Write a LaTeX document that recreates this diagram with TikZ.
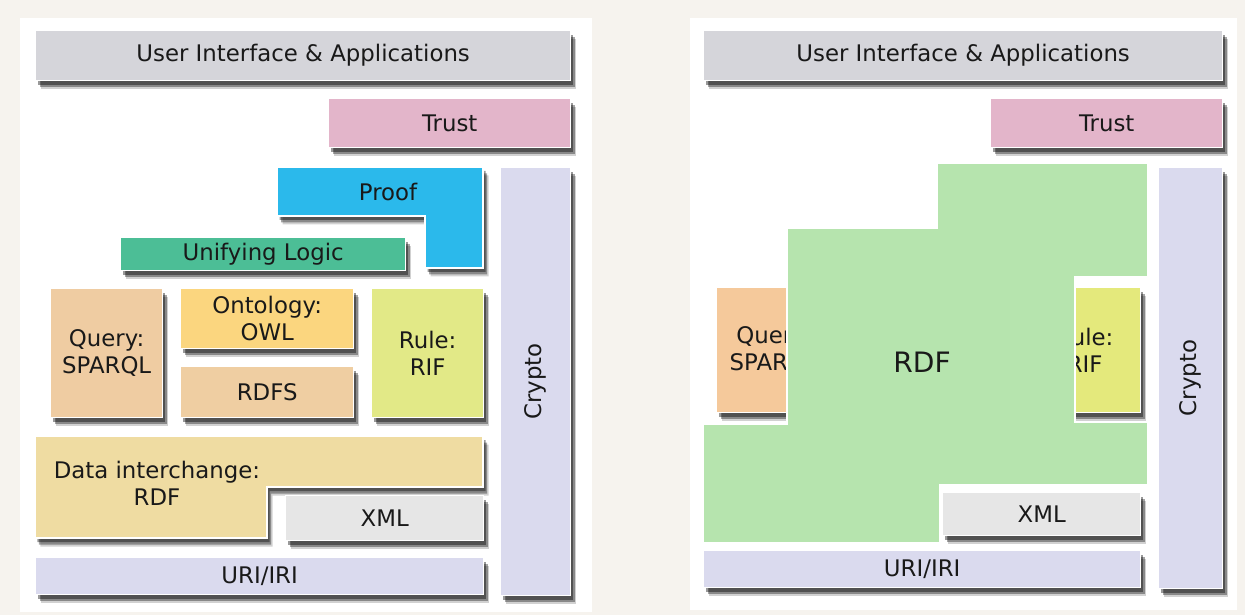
\documentclass[tikz,border=0pt]{standalone}
\usepackage{fontspec}
\setmainfont{DejaVu Sans}
\usetikzlibrary{shadows}

\definecolor{paper}{HTML}{F6F3EE}
\definecolor{uigrey}{HTML}{D5D5DA}
\definecolor{trustpink}{HTML}{E3B5CA}
\definecolor{proofblue}{HTML}{2BB9EB}
\definecolor{logicgreen}{HTML}{4CBE96}
\definecolor{querytan}{HTML}{EFCCA2}
\definecolor{owlyellow}{HTML}{FBD67F}
\definecolor{rdfstan}{HTML}{EFCEA2}
\definecolor{ruleyellow}{HTML}{E2E987}
\definecolor{rdfsand}{HTML}{EFDCA2}
\definecolor{xmlgrey}{HTML}{E6E6E6}
\definecolor{urililac}{HTML}{DADAEE}
\definecolor{rdfgreen}{HTML}{B6E4AE}
\definecolor{queryorange}{HTML}{F5C99B}
\definecolor{rulelime}{HTML}{E4E97C}

\tikzset{
  % three stacked shadows give a soft edge
  layer/.style={draw=white, line width=0.8pt,
    drop shadow={shadow xshift=0.05cm, shadow yshift=-0.08cm, fill=black, opacity=0.4},
    drop shadow={shadow xshift=0.08cm, shadow yshift=-0.13cm, fill=black, opacity=0.35},
    drop shadow={shadow xshift=0.11cm, shadow yshift=-0.17cm, fill=black, opacity=0.18}},
  box/.style={layer, anchor=north west, inner sep=0pt, align=center},
  lbl/.style={inner sep=0pt, align=center, text=black!90},
}

\begin{document}
\begin{tikzpicture}[x=0.02cm, y=-0.02cm, font=\fontsize{13}{15.5}\selectfont, text=black!90]
  \useasboundingbox (0,0) rectangle (1245,615);
  \fill[paper] (0,0) rectangle (1245,615);
  \fill[white] (20,18) rectangle (592,612);
  \fill[white] (690,18) rectangle (1237,610);

  % the layered stack
  \node[box, fill=uigrey, minimum width=10.7cm, minimum height=1cm] (ui) at (35,30) {User Interface \& Applications};
  \node[box, fill=trustpink, minimum width=4.84cm, minimum height=0.98cm] (trust) at (328,98) {Trust};
  \node[box, fill=urililac, minimum width=1.4cm, minimum height=8.56cm] (crypto) at (500,167) {};
  \node[lbl, rotate=90] (cryptolbl) at (crypto) {Crypto};

  \draw[layer, fill=proofblue] (277,167) -- (483,167) -- (483,268) -- (425,268) -- (425,216) -- (277,216) -- cycle;
  \node[lbl] (proof) at (388,192) {Proof};

  \node[box, fill=logicgreen, minimum width=5.7cm, minimum height=0.66cm] (logic) at (120,237) {Unifying Logic};
  \node[box, fill=querytan, minimum width=2.24cm, minimum height=2.58cm] (query) at (50,288) {Query:\\SPARQL};
  \node[box, fill=owlyellow, minimum width=3.46cm, minimum height=1.2cm] (owl) at (180,288) {Ontology:\\OWL};
  \node[box, fill=rdfstan, minimum width=3.46cm, minimum height=1.02cm] (rdfs) at (180,366) {RDFS};
  \node[box, fill=ruleyellow, minimum width=2.24cm, minimum height=2.58cm] (rule) at (371,288) {Rule:\\RIF};

  \draw[layer, fill=rdfsand] (35,436) -- (483,436) -- (483,487) -- (267,487) -- (267,538) -- (35,538) -- cycle;
  \node[lbl] (rdf) at (157,483) {Data interchange:\\RDF};

  \node[box, fill=xmlgrey, minimum width=3.96cm, minimum height=0.9cm] (xml) at (285,495) {XML};
  \node[box, fill=urililac, minimum width=8.96cm, minimum height=0.74cm] (uri) at (35,557) {URI/IRI};

  % same stack, RDF taking over the middle
  \node[box, fill=uigrey, minimum width=10.38cm, minimum height=1cm] (rui) at (703,30) {User Interface \& Applications};
  \node[box, fill=trustpink, minimum width=4.64cm, minimum height=0.98cm] (rtrust) at (990,98) {Trust};
  \node[box, fill=urililac, minimum width=1.28cm, minimum height=8.42cm] (rcrypto) at (1158,167) {};
  \node[lbl, rotate=90] (rcryptolbl) at (rcrypto) {Crypto};

  \node[box, fill=queryorange, minimum width=2.3cm, minimum height=2.5cm] (rquery) at (716,287) {Query:\\SPARQL};
  \node[box, fill=rulelime, minimum width=2.24cm, minimum height=2.5cm] (rrule) at (1028,287) {Rule:\\RIF};

  \fill[rdfgreen, draw=white, line width=0.8pt] (703,543) -- (703,424) -- (787,424) -- (787,228) -- (937,228) -- (937,163)
    -- (1148,163) -- (1148,277) -- (1075,277) -- (1075,422) -- (1148,422) -- (1148,485) -- (940,485) -- (940,543) -- cycle;
  \node[lbl, font=\fontsize{16}{18}\selectfont] (rrdf) at (922,362) {RDF};

  \node[box, fill=xmlgrey, minimum width=3.96cm, minimum height=0.86cm] (rxml) at (942,492) {XML};
  \node[box, fill=urililac, minimum width=8.74cm, minimum height=0.74cm] (ruri) at (703,550) {URI/IRI};
\end{tikzpicture}
\end{document}
